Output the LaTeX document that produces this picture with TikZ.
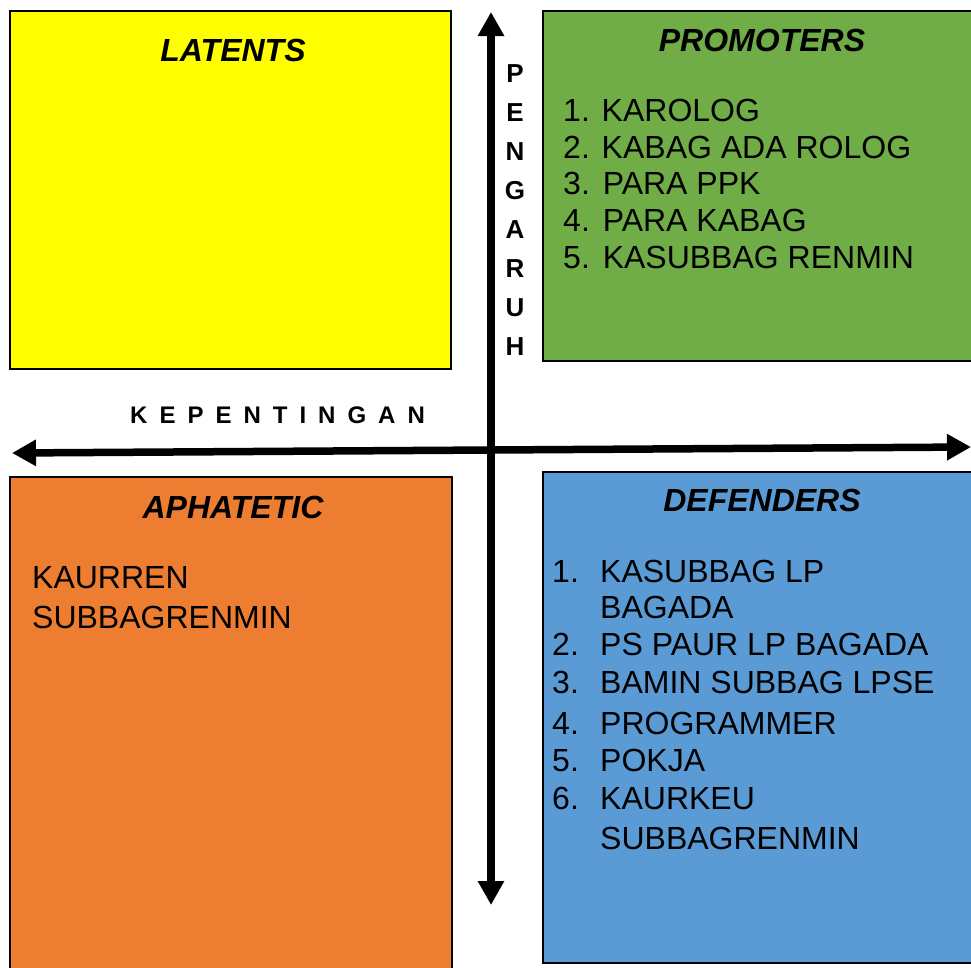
\documentclass[tikz,border=0pt]{standalone}
\usepackage{fontspec}
\setmainfont{Liberation Sans}
\usetikzlibrary{arrows.meta}

\definecolor{latentfill}{HTML}{FFFF00}
\definecolor{promofill}{HTML}{70AD47}
\definecolor{apafill}{HTML}{ED7D31}
\definecolor{deffill}{HTML}{5B9BD5}

\tikzset{
  quadbox/.style={draw=black, line width=1.6pt},
  qtitle/.style={inner sep=0pt, anchor=center, font=\fontsize{32}{38}\selectfont\bfseries\itshape},
  qitem/.style={inner sep=0pt, anchor=base west, font=\fontsize{32}{38}\selectfont},
  axislabel/.style={inner sep=0pt, anchor=center, font=\fontsize{26}{31}\selectfont\bfseries},
  axisarrow/.style={line width=7.5pt, {Triangle[length=24pt,width=25pt]}-{Triangle[length=24pt,width=25pt]}}
}

\begin{document}
\begin{tikzpicture}[x=1pt,y=-1pt]
\useasboundingbox (0,0) rectangle (971,967);

% the four quadrants
\draw[quadbox, fill=latentfill] (10,11) rectangle (451,369);
\draw[quadbox, fill=promofill] (543,11) rectangle (980,361);
\draw[quadbox, fill=apafill]   (10,477) rectangle (452,980);
\draw[quadbox, fill=deffill]   (543,472) rectangle (980,963);

% titles
\node[qtitle] (tlat) at (233,50)  {LATENTS};
\node[qtitle] (tpro) at (762,40)  {PROMOTERS};
\node[qtitle] (tapa) at (233,507) {APHATETIC};
\node[qtitle] (tdef) at (762,500) {DEFENDERS};

% promoters
\node[qitem] (p1) at (563,121) {1. KAROLOG};
\node[qitem] (p2) at (563,158) {2. KABAG ADA ROLOG};
\node[qitem] (p3) at (563,194) {3.\kern4pt\ PARA PPK};
\node[qitem] (p4) at (563,231) {4.\kern4pt\ PARA KABAG};
\node[qitem] (p5) at (563,268) {5.\kern4pt\ KASUBBAG RENMIN};

% aphatetic
\node[qitem] (a1) at (32,588) {KAURREN};
\node[qitem] (a2) at (32,628) {SUBBAGRENMIN};

% defenders
\node[qitem] (n1) at (552,582) {1.};
\node[qitem] (d1) at (600,582) {KASUBBAG LP};
\node[qitem] (d1b) at (600,618) {BAGADA};
\node[qitem] (n2) at (552,655) {2.};
\node[qitem] (d2) at (600,655) {PS PAUR LP BAGADA};
\node[qitem] (n3) at (552,693) {3.};
\node[qitem] (d3) at (600,693) {BAMIN SUBBAG LPSE};
\node[qitem] (n4) at (552,734) {4.};
\node[qitem] (d4) at (600,734) {PROGRAMMER};
\node[qitem] (n5) at (552,771) {5.};
\node[qitem] (d5) at (600,771) {POKJA};
\node[qitem] (n6) at (552,809) {6.};
\node[qitem] (d6) at (600,809) {KAURKEU};
\node[qitem] (d6b) at (600,849) {SUBBAGRENMIN};

% axes
\coordinate (vtop) at (491,12);
\coordinate (vbot) at (491,905);
\coordinate (hleft) at (12,453);
\coordinate (hright) at (971,447);
\draw[axisarrow] (vbot) -- (vtop);
\draw[axisarrow] (hleft) -- (hright);

% axis labels
\node[inner sep=0pt, anchor=west, font=\fontsize{24}{29}\selectfont\bfseries\addfontfeature{LetterSpace=50}] (kep) at (130,415) {KEPENTINGAN};
\foreach \ch [count=\i from 0] in {P,E,N,G,A,R,U,H}
  \node[axislabel] (peng\i) at (515,{74+\i*38.9}) {\ch};
\end{tikzpicture}
\end{document}
